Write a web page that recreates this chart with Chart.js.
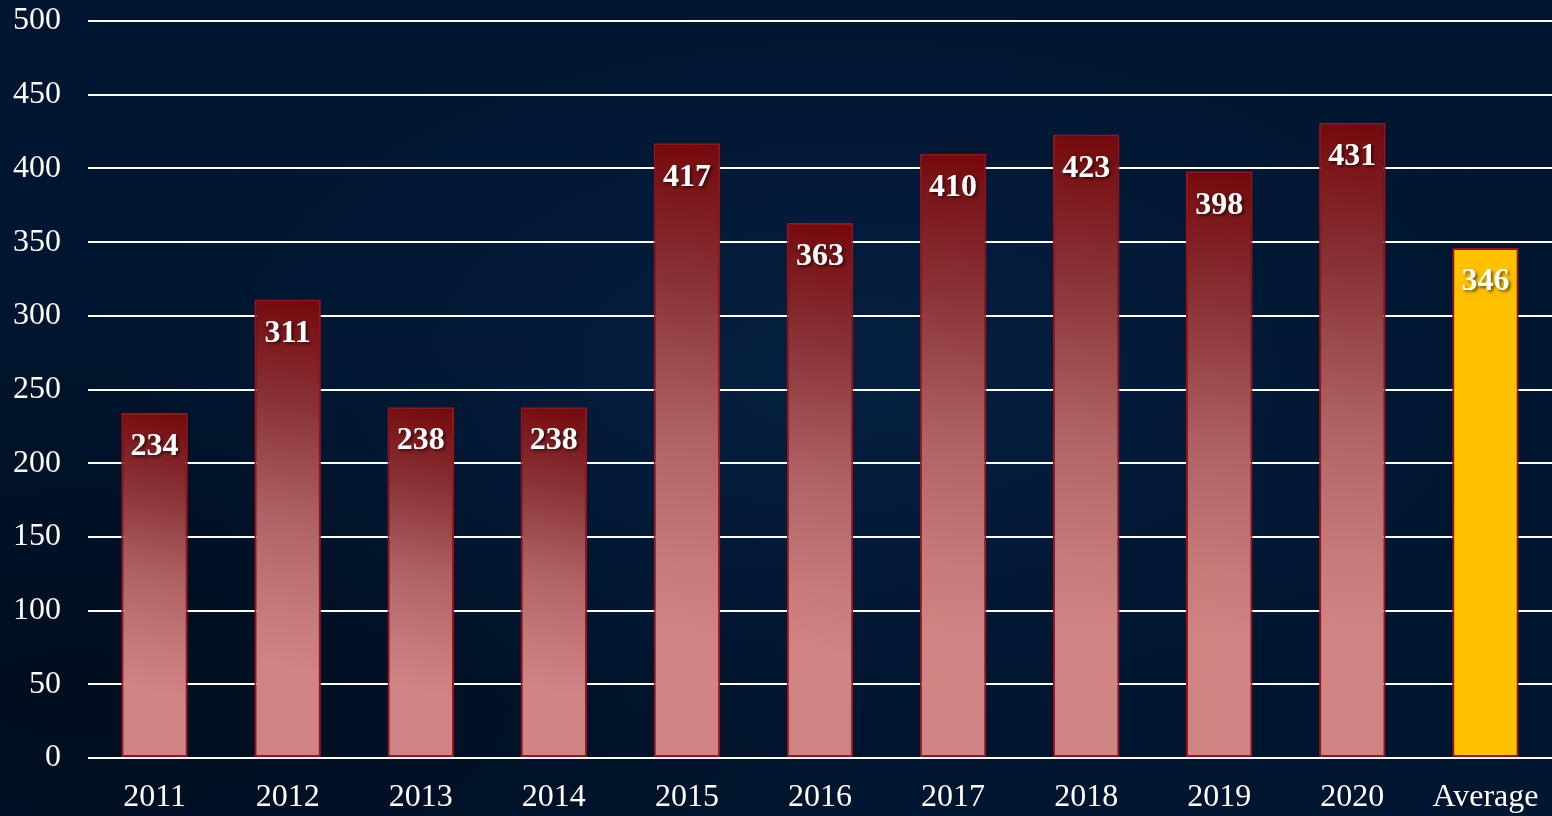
<!DOCTYPE html>
<html>
<head>
<meta charset="utf-8">
<script src="https://cdn.jsdelivr.net/npm/chart.js@4"></script>
<style>
  html, body { margin: 0; padding: 0; }
  body {
    width: 1552px; height: 816px; overflow: hidden;
    background:
      radial-gradient(ellipse at 55% 45%, rgba(10, 40, 80, 0.55) 0%, rgba(0, 0, 0, 0) 60%),
      radial-gradient(ellipse at 5% 85%, rgba(0, 0, 0, 0.35) 0%, rgba(0, 0, 0, 0) 40%),
      #00152f;
  }
  #wrap { position: relative; width: 1552px; height: 816px; }
</style>
</head>
<body>
<div id="wrap"><canvas id="chart"></canvas></div>
<script>
const categories = ['2011', '2012', '2013', '2014', '2015', '2016', '2017', '2018', '2019', '2020', 'Average'];
const values = [234, 311, 238, 238, 417, 363, 410, 423, 398, 431, 346];
const yTicks = [0, 50, 100, 150, 200, 250, 300, 350, 400, 450, 500];

const FONT = "'Liberation Serif', 'Times New Roman', serif";

function barFill(context) {
  const chart = context.chart;
  const i = context.dataIndex;
  if (categories[i] === 'Average') return '#ffc000';
  const yScale = chart.scales.y;
  const xScale = chart.scales.x;
  if (!yScale || !xScale || !chart.chartArea) return '#b05858';
  const top = yScale.getPixelForValue(values[i]);
  const bottom = yScale.getPixelForValue(0);
  const cx = xScale.getPixelForValue(i);
  const g = chart.ctx.createLinearGradient(cx + 34, top, cx - 24, top + (bottom - top) * 0.8);
  g.addColorStop(0, '#74080c');
  g.addColorStop(0.3, '#8a3437');
  g.addColorStop(0.6, '#b06364');
  g.addColorStop(0.85, '#c77a7a');
  g.addColorStop(1, '#d08484');
  return g;
}

// white bold value inside the top of each bar
const valueLabels = {
  id: 'valueLabels',
  afterDatasetsDraw(chart) {
    const ctx = chart.ctx;
    const meta = chart.getDatasetMeta(0);
    ctx.save();
    ctx.font = 'bold 32px ' + FONT;
    ctx.textAlign = 'center';
    ctx.textBaseline = 'middle';
    ctx.fillStyle = '#ffffff';
    ctx.shadowColor = 'rgba(0, 0, 0, 0.55)';
    ctx.shadowOffsetX = 2;
    ctx.shadowOffsetY = 2;
    ctx.shadowBlur = 3;
    meta.data.forEach((bar, i) => {
      ctx.fillText(String(values[i]), bar.x, bar.y + 34);
    });
    ctx.restore();
  }
};

new Chart(document.getElementById('chart'), {
  type: 'bar',
  data: {
    labels: categories,
    datasets: [{
      data: values,
      backgroundColor: barFill,
      borderColor: '#9c121b',
      borderWidth: 2,
      borderSkipped: false,
      barPercentage: 0.5,
      categoryPercentage: 1.0
    }]
  },
  options: {
    responsive: true,
    maintainAspectRatio: false,
    animation: false,
    layout: { padding: { top: 21, right: -5, left: 0, bottom: 0 } },
    plugins: {
      legend: { display: false },
      tooltip: { enabled: false }
    },
    scales: {
      x: {
        grid: { display: false },
        border: { display: false },
        ticks: {
          color: '#ffffff',
          font: { family: FONT, size: 32 },
          padding: 12,
          maxRotation: 0,
          autoSkip: false
        },
        afterFit(scale) { scale.height = 58; }
      },
      y: {
        min: 0,
        max: 500,
        afterBuildTicks(scale) { scale.ticks = yTicks.map(v => ({ value: v })); },
        grid: { color: '#ffffff', lineWidth: 2, drawTicks: false },
        border: { display: false },
        ticks: {
          color: '#ffffff',
          font: { family: FONT, size: 32 },
          padding: 27
        },
        afterFit(scale) {
          scale.width = 88;
          scale.paddingTop = 0;
          scale.paddingBottom = 0;
        }
      }
    }
  },
  plugins: [valueLabels]
});
</script>
</body>
</html>
